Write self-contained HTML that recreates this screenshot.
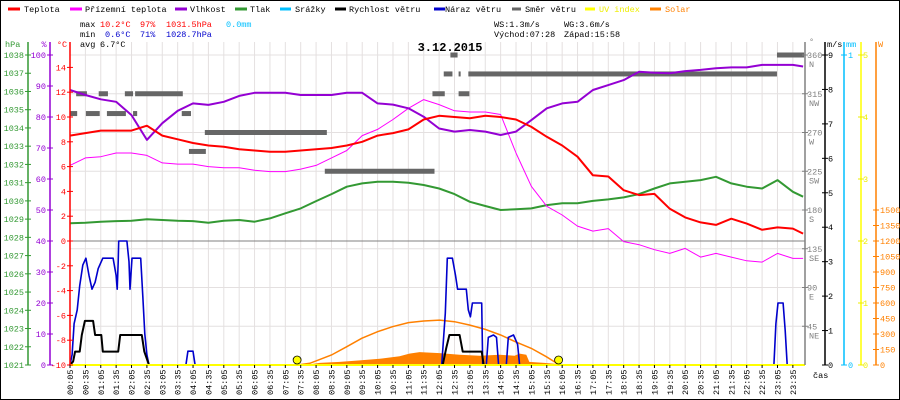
<!DOCTYPE html>
<html><head><meta charset="utf-8"><style>
body{margin:0;background:#fff}
svg{display:block}
text{font-family:"Liberation Mono",monospace;font-size:8.5px}
</style></head><body>
<svg id="chart" width="900" height="400" viewBox="0 0 900 400" xmlns="http://www.w3.org/2000/svg">
<rect x="0.5" y="0.5" width="899" height="399" fill="#fff" stroke="#000"/>
<g id="grid"></g>
<g id="series"></g>
<g id="axes"></g>
<g>
 <line x1="8" y1="9" x2="20" y2="9" stroke="#f00" stroke-width="3"/><text x="24" y="12">Teplota</text>
 <line x1="70" y1="9" x2="82" y2="9" stroke="#f0f" stroke-width="3"/><text x="85" y="12">Přízemní teplota</text>
 <line x1="175" y1="9" x2="187" y2="9" stroke="#9400d3" stroke-width="3"/><text x="190" y="12">Vlhkost</text>
 <line x1="235" y1="9" x2="247" y2="9" stroke="#339933" stroke-width="3"/><text x="250" y="12">Tlak</text>
 <line x1="280" y1="9" x2="291" y2="9" stroke="#00bfff" stroke-width="3"/><text x="295" y="12">Srážky</text>
 <line x1="335" y1="9" x2="346" y2="9" stroke="#000" stroke-width="3"/><text x="349" y="12">Rychlost větru</text>
 <line x1="434" y1="9" x2="445" y2="9" stroke="#0000cc" stroke-width="3"/><text x="445" y="12">Náraz větru</text>
 <line x1="512" y1="9" x2="521" y2="9" stroke="#666" stroke-width="3"/><text x="525" y="12">Směr větru</text>
 <line x1="585" y1="9" x2="595" y2="9" stroke="#ff0" stroke-width="3"/><text x="599" y="12" fill="#ee0">UV index</text>
 <line x1="650" y1="9" x2="661" y2="9" stroke="#ff8000" stroke-width="3"/><text x="665" y="12" fill="#ff8000">Solar</text>
</g>
<g>
 <text x="80" y="27">max</text><text x="100" y="27" fill="#f00">10.2°C</text><text x="140" y="27" fill="#f00">97%</text><text x="166" y="27" fill="#f00">1031.5hPa</text><text x="226" y="27" fill="#00bfff">0.0mm</text>
 <text x="80" y="37">min</text><text x="105" y="37" fill="#00c">0.6°C</text><text x="140" y="37" fill="#00c">71%</text><text x="166" y="37" fill="#00c">1028.7hPa</text>
 <text x="80" y="47">avg</text><text x="100" y="47">6.7°C</text>
 <text x="494" y="27">WS:1.3m/s</text><text x="564" y="27">WG:3.6m/s</text>
 <text x="494" y="37">Východ:07:28</text><text x="564" y="37">Západ:15:58</text>
 <text x="450" y="51" text-anchor="middle" style="font-size:12px;font-weight:bold">3.12.2015</text>
</g>
</svg>
<script>
// ---- data ----
const times = [5,35,65,95,125,155,185,215,245,275,305,335,365,395,425,455,485,515,545,575,605,635,665,695,725,755,785,815,845,875,905,935,965,995,1025,1055,1085,1115,1145,1175,1205,1235,1265,1295,1325,1355,1385,1415,1435];
const tempValues = [8.5,8.7,8.9,8.9,8.9,9.3,8.5,8.2,7.9,7.7,7.6,7.4,7.3,7.2,7.2,7.3,7.4,7.5,7.7,8.0,8.5,8.7,9.0,9.8,10.1,10.0,9.9,10.1,10.0,9.8,9.2,8.4,7.7,6.8,5.3,5.2,4.1,3.7,3.8,2.6,1.9,1.5,1.3,1.8,1.4,0.9,1.1,1.0,0.6];
const feelValues = [6.1,6.7,6.8,7.1,7.1,6.9,6.3,6.2,6.2,6.0,5.9,5.9,5.7,5.6,5.6,5.8,6.1,6.7,7.3,8.5,9.0,9.8,10.7,11.4,11.0,10.5,10.4,10.4,10.2,7.1,4.4,2.8,2.1,1.2,0.8,1.0,-0.05,-0.3,-0.7,-1.0,-0.6,-1.3,-1.0,-1.3,-1.6,-1.7,-1.0,-1.4,-1.4];
const humValues = [88.7,87.1,85.7,84.9,80.6,72.6,78,82,84.4,83.9,84.9,86.8,87.8,87.8,87.8,87.1,87.1,87.1,87.8,87.8,84.4,84,82.8,80.1,76.3,75.3,75.8,75.3,74.2,75.3,79,82.8,84.4,84.9,88.7,90.3,91.9,94.6,94.3,94.1,94.8,95.2,95.7,96,96,96.8,96.8,96.8,96.3];
const pressValues = [1028.77,1028.80,1028.86,1028.89,1028.91,1028.99,1028.95,1028.91,1028.89,1028.80,1028.91,1028.95,1028.86,1029.04,1029.32,1029.59,1029.99,1030.37,1030.78,1030.96,1031.05,1031.05,1031.0,1030.87,1030.68,1030.37,1029.95,1029.72,1029.5,1029.54,1029.59,1029.77,1029.87,1029.87,1030.0,1030.08,1030.19,1030.37,1030.68,1030.96,1031.05,1031.14,1031.32,1030.96,1030.78,1030.68,1031.14,1030.5,1030.23];
const gustTimes = [5,9,13,19,24,30,36,42,48,54,60,69,89,95,97,99,100,116,120,122,126,143,147,151,155,159,231,235,245,249,730,737,741,751,757,761,778,782,786,790,798,808,810,817,821,831,837,841,856,860,870,878,882,1378,1382,1386,1396,1400,1404];
const gustValues = [0,0.3,1.2,1.6,2.3,2.9,3.1,2.6,2.2,2.4,2.8,3.1,3.1,2.6,2.2,3.0,3.6,3.6,3.0,2.2,3.1,3.1,2.0,0.9,0.3,0,0,0.4,0.4,0,0,1.5,3.1,3.1,2.6,2.2,2.2,1.6,1.4,1.8,1.8,1.8,0,0,0.8,0.87,0.8,0,0,0.8,0.87,0.6,0,0,1.2,1.8,1.8,1.0,0];
const windTimes = [5,11,15,24,28,34,50,54,66,69,99,103,145,150,159,732,739,745,765,771,808,812];
const windValues = [0,0.1,0.39,0.39,0.87,1.28,1.28,0.87,0.87,0.39,0.39,0.87,0.87,0.39,0,0,0.5,0.87,0.87,0.39,0.39,0];
const dirStart = [5,17,36,61,77,112,128,132,223,237,268,502,712,734,747,763,763,782,1384];
const dirEnd = [19,38,63,79,114,128,136,225,241,270,506,716,736,751,761,767,784,1384,1437];
const dirValues = [292,315,292,315,292,315,292,315,292,248,270,225,315,338,360,338,315,338,360];
const solarTimes = [463,492,531,570,609,648,667,687,706,726,765,804,843,872,882,895,901,930,956,960];
const solarValues = [0,20,30,45,60,85,110,125,120,115,100,90,100,90,110,100,30,20,10,0];
const arcTimes = [449,473,515,545,574,605,634,665,695,726,755,784,815,845,874,905,934,960];
const arcValues = [0,16,97,177,258,322,371,410,426,435,419,387,345,290,225,161,80,0];
const sunTimes = [448,958];
const tickLabels = ["00:05","00:35","01:05","01:35","02:05","02:35","03:05","03:35","04:05","04:35","05:05","05:35","06:05","06:35","07:05","07:35","08:05","08:35","09:05","09:35","10:05","10:35","11:05","11:35","12:05","12:35","13:05","13:35","14:05","14:35","15:05","15:35","16:05","16:35","17:05","17:35","18:05","18:35","19:05","19:35","20:05","20:35","21:05","21:35","22:05","22:35","23:05","23:35"];
const dirLabels = ["45","90","135","180","225","270","315","360"];
const compassLabels = ["NE","E","SE","S","SW","W","NW","N"];

// ---- scales ----
const X0=70, X1=805, YT=55, YB=365;
const xS = m => X0 + (m-5)*15.38/30;
const yT = v => 241 - v*12.4;
const yH = v => YB - v*3.1;
const yP = v => YB - (v-1021)*18.235;
const yD = v => YB - v*310/360;
const yW = v => YB - v*310/9;
const ySol = v => YB - v*155/1500;

const NS="http://www.w3.org/2000/svg";
function mk(tag, attrs, parent){const e=document.createElementNS(NS,tag);for(const k in attrs)e.setAttribute(k,attrs[k]);parent.appendChild(e);return e;}
const grid=document.getElementById('grid'), ser=document.getElementById('series'), ax=document.getElementById('axes');

// grid
for(let i=1;i<48;i++){const x=X0+i*15.38;const l=mk('line',{x1:x,y1:YT-13,x2:x,y2:YB,stroke:'#e4e0e0','stroke-width':1},grid);

}
for(let k=0;k<8;k++){const y=YT+k*38.75;const l=mk('line',{x1:X0,y1:y,x2:X1,y2:y,stroke:'#e4e0e0','stroke-width':1},grid);

}
const zl=mk('line',{x1:X0,y1:yT(0),x2:X1,y2:yT(0),stroke:'#808080','stroke-width':1},grid);



function pts(ts,vs,fy){return ts.map((t,i)=>xS(t).toFixed(1)+','+fy(vs[i]).toFixed(1)).join(' ');}

// solar area
const solPoly=mk('polygon',{points:xS(solarTimes[0])+','+YB+' '+pts(solarTimes,solarValues,ySol)+' '+xS(solarTimes[solarTimes.length-1])+','+YB,fill:'#ff8000'},ser);


const arc=mk('polyline',{points:pts(arcTimes,arcValues,ySol),fill:'none',stroke:'#ff8000','stroke-width':1.5},ser);



// wind direction
dirValues.forEach((d,i)=>{const r=mk('rect',{x:xS(dirStart[i]),y:yD(d)-2.5,width:xS(dirEnd[i])-xS(dirStart[i]),height:5,fill:'#666'},ser);

});

function line(ts,vs,fy,color,w,name){const p=mk('polyline',{points:pts(ts,vs,fy),fill:'none',stroke:color,'stroke-width':w,'stroke-linejoin':'round'},ser);

}
line(times,pressValues,yP,'#339933',2,'pressure-line');
line(times,feelValues,yT,'#ff00ff',1,'feels-like-line');
line(times,humValues,yH,'#9400d3',2,'humidity-line');
line(times,tempValues,yT,'#ff0000',2,'temperature-line');
line(gustTimes,gustValues,yW,'#0000cc',1.6,'wind-gust-line');
line(windTimes,windValues,yW,'#000',2,'wind-speed-line');

// UV zero line
const uv=mk('line',{x1:X0,y1:YB,x2:X1,y2:YB,stroke:'#ff0','stroke-width':2},ser);


sunTimes.forEach(t=>{const c=mk('circle',{cx:xS(t),cy:YB-5,r:4,fill:'#ff0',stroke:'#000','stroke-width':0.8},ser);

});

// axes
function vaxis(x,color,name){const l=mk('line',{x1:x,y1:YT-13,x2:x,y2:YB,stroke:color,'stroke-width':1.5},ax);

}
vaxis(28,'#339933','pressure-axis');vaxis(50,'#9400d3','humidity-axis');vaxis(70,'#f00','temperature-axis');
vaxis(805,'#808080','direction-axis');vaxis(825,'#000','wind-axis');vaxis(844,'#00bfff','rain-axis');vaxis(861,'#ff0','uv-axis');vaxis(876,'#ff8000','solar-axis');
function lbl(x,y,t,color,anchor,name){const e=mk('text',{x:x,y:y,fill:color,'text-anchor':anchor||'start'},ax);e.textContent=t;

return e;}
function tick(x1,x2,y,color){mk('line',{x1:x1,y1:y,x2:x2,y2:y,stroke:color,'stroke-width':1},ax);}
lbl(5,47,'hPa','#339933','start','pressure-unit');lbl(44,47,'%','#9400d3','middle','humidity-unit');lbl(62,47,'°C','#f00','middle','temperature-unit');
for(let p=1021;p<=1038;p++){tick(25,31,yP(p),'#339933');lbl(24,yP(p)+3,String(p),'#339933','end','pressure-tick-label');}
for(let h=0;h<=100;h+=10){tick(47,53,yH(h),'#9400d3');lbl(46,yH(h)+3,String(h),'#9400d3','end','humidity-tick-label');}
for(let t=-10;t<=14;t+=2){tick(67,73,yT(t),'#f00');lbl(66,yT(t)+3,String(t),'#f00','end','temperature-tick-label');}
lbl(809,44,'°','#808080','start','direction-unit');lbl(827,47,'m/s','#000','start','wind-unit');lbl(846,47,'mm','#00bfff','start','rain-unit');lbl(878,47,'W','#ff8000','start','solar-unit');
dirLabels.forEach((d,i)=>{const y=yD(+d);tick(802,808,y,'#808080');lbl(807,y+3,d,'#808080','start','direction-tick-label');lbl(809,y+12,compassLabels[i],'#808080','start','compass-label');});
for(let v=0;v<=9;v++){tick(822,828,yW(v),'#000');lbl(828,yW(v)+3,String(v),'#000','start','wind-tick-label');}
[0,1].forEach(v=>{const y=YB-v*310;tick(841,847,y,'#00bfff');lbl(848,y+3,String(v),'#00bfff','start','rain-tick-label');});
for(let v=0;v<=5;v++){const y=YB-v*62;tick(858,864,y,'#ee0');lbl(863,y+3,String(v),'#ee0','start','uv-tick-label');}
for(let v=0;v<=1500;v+=150){const y=ySol(v);tick(873,879,y,'#ff8000');lbl(880,y+3,String(v),'#ff8000','start','solar-tick-label');}
tickLabels.forEach((t,i)=>{const x=X0+i*15.38;tick(0,0,0,'#000');mk('line',{x1:x,y1:YB,x2:x,y2:YB+3,stroke:'#000'},ax);
const e=mk('text',{x:0,y:0,transform:'translate('+(x+3)+',395) rotate(-90)',fill:'#000'},ax);e.textContent=t;

});
lbl(813,378,'čas','#000','start','x-axis-title');
</script>
</body></html>
